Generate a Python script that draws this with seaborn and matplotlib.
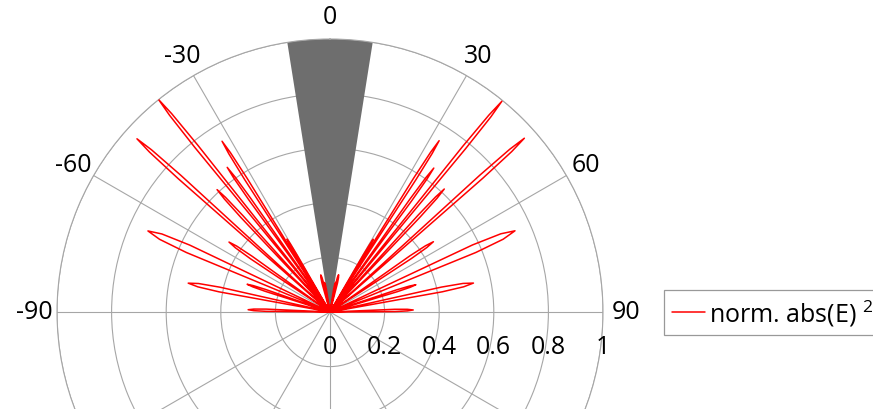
import numpy as np
import matplotlib
matplotlib.use("Agg")
import matplotlib.pyplot as plt
import seaborn as sns

# Far-field lobes: direction (deg, 0 = broadside, clockwise positive),
# peak of normalised |E|^2 and angular half-width of each lobe (deg)
lobe_deg = [-88.4, -78.5, -71.5, -66.0, -55.3, -48.1, -42.7, -38.9, -35.4,
            -32.3, -30.5, -14.0, -10.5,
            10.5, 13.0, 30.7, 32.5, 35.8, 39.2, 42.9, 48.2, 55.8, 66.3,
            72.4, 78.6, 88.6]
lobe_peak = [0.30, 0.53, 0.32, 0.73, 0.45, 0.95, 0.61, 1.00, 0.65,
             0.74, 0.31, 0.14, 0.11,
             0.11, 0.14, 0.31, 0.744, 0.65, 0.996, 0.615, 0.955, 0.458, 0.74,
             0.33, 0.536, 0.305]
lobe_half = [1.0, 1.2, 0.8, 1.5, 0.9, 0.6, 0.6, 0.5, 0.5,
             0.5, 0.5, 1.5, 1.5,
             1.5, 1.5, 0.5, 0.5, 0.5, 0.5, 0.6, 0.6, 0.9, 1.5,
             0.8, 1.2, 1.0]

# Shaded main-beam sector
beam_deg = [0.0]
beam_span = [18.0]
beam_reach = [1.0]

angle_ticks = [0, 30, 60, 90, 120, 150, 180, 210, 240, 270, 300, 330]
angle_labels = ["0", "30", "60", "90", "", "", "",
                "", "", "-90", "-60", "-30"]
radius_ticks = [0.2, 0.4, 0.6, 0.8, 1.0]
radius_values = [0, 0.2, 0.4, 0.6, 0.8, 1.0]
radius_labels = ["0", "0.2", "0.4", "0.6", "0.8", "1"]
legend_label = "norm. abs(E) $^{2}$"

sns.set_style("white")
plt.rcParams["font.family"] = ["Open Sans", "DejaVu Sans"]
plt.rcParams["mathtext.fontset"] = "custom"
plt.rcParams["mathtext.rm"] = "Open Sans"
plt.rcParams["mathtext.it"] = "Open Sans"
plt.rcParams["text.color"] = "black"

W, H = 873, 410
fig = plt.figure(figsize=(W / 100, H / 100), dpi=100)
cx, cy, R = 330, 313, 273
ax = fig.add_axes([(cx - R) / W, (H - cy - R) / H, 2 * R / W, 2 * R / H],
                  projection="polar")
ax.set_theta_zero_location("N")
ax.set_theta_direction(-1)
ax.set_ylim(0, 1)

# Trace of the pattern: each lobe leaves the origin, reaches its peak and returns
theta_pts, r_pts = [0.0], [0.0]
for c, p, h in zip(lobe_deg, lobe_peak, lobe_half):
    theta_pts += [c - h, c - 0.6 * h, c, c + 0.6 * h, c + h, c + h]
    r_pts += [0.78 * p, 0.93 * p, p, 0.93 * p, 0.78 * p, 0.0]

ax.bar(np.deg2rad(beam_deg), beam_reach, width=np.deg2rad(beam_span),
       bottom=0, color="#6e6e6e", edgecolor="none", zorder=2)
sns.lineplot(x=np.deg2rad(theta_pts), y=r_pts, sort=False, estimator=None,
             color="#ff0000", linewidth=1.1, ax=ax, label=legend_label,
             zorder=3)

grid_kw = dict(color="#a6a6a6", linewidth=0.8)
ax.set_thetagrids(angle_ticks, angle_labels)
ax.set_rgrids(radius_ticks, labels=[""] * len(radius_ticks))
ax.grid(True, **grid_kw)
ax.set_axisbelow(True)
ax.spines["polar"].set_color("#a6a6a6")
ax.spines["polar"].set_linewidth(0.8)
ax.tick_params(axis="x", labelsize=18, pad=6, colors="black")

for v, lab in zip(radius_values, radius_labels):
    ax.annotate(lab, xy=(np.pi / 2, v), xytext=(0, -25),
                textcoords="offset points", ha="center", va="center",
                fontsize=18, color="black", annotation_clip=False)

leg = ax.legend(loc="center left", bbox_to_anchor=(664 / W, (H - 313.5) / H),
                bbox_transform=fig.transFigure, borderaxespad=0,
                fontsize=18, frameon=True, fancybox=False, framealpha=1,
                handlelength=1.35, handletextpad=0.16, borderpad=0.3)
leg.get_frame().set_edgecolor("#999999")
leg.get_frame().set_linewidth(0.9)
for t in leg.get_texts():
    t.set_color("black")

fig.savefig("out.png", dpi=100)
